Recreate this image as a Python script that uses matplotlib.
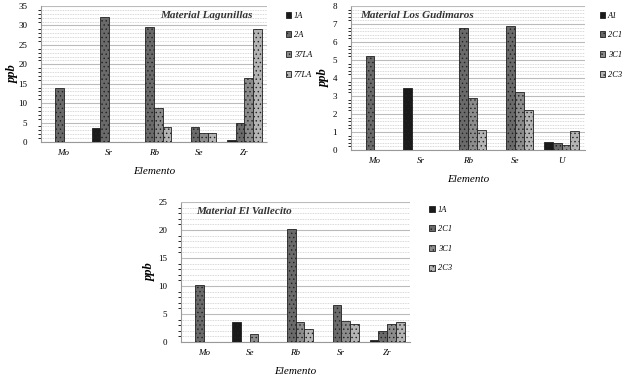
import matplotlib
matplotlib.use("Agg")
import matplotlib.pyplot as plt
from matplotlib.ticker import MultipleLocator
import numpy as np

plt.rcParams['font.family'] = ['Liberation Serif', 'DejaVu Serif']

# Chart 1: Material Lagunillas
cats1 = ["Mo", "Sr", "Rb", "Se", "Zr"]
leg1 = ["1A", "2A", "37LA", "77LA"]
vals1 = [
    [0.0, 3.5, 0.0, 0.0, 0.6],
    [14.0, 32.2, 29.7, 3.8, 4.8],
    [0.0, 0.0, 8.7, 2.3, 16.5],
    [0.0, 0.0, 3.8, 2.2, 29.1],
]

# Chart 2: Material Los Gudimaros
cats2 = ["Mo", "Sr", "Rb", "Se", "U"]
leg2 = ["A1", "2C1", "3C1", "2C3"]
vals2 = [
    [0.0, 3.45, 0.0, 0.0, 0.44],
    [5.25, 0.0, 6.8, 6.9, 0.41],
    [0.0, 0.0, 2.9, 3.2, 0.3],
    [0.0, 0.0, 1.1, 2.2, 1.05],
]

# Chart 3: Material El Vallecito
cats3 = ["Mo", "Se", "Rb", "Sr", "Zr"]
leg3 = ["1A", "2C1", "3C1", "2C3"]
vals3 = [
    [0.0, 3.5, 0.0, 0.0, 0.4],
    [10.2, 0.0, 20.1, 6.6, 1.9],
    [0.0, 1.4, 3.6, 3.8, 3.2],
    [0.0, 0.0, 2.3, 3.2, 3.5],
]

colors = ["#1a1a1a", "#6a6a6a", "#8c8c8c", "#b4b4b4"]
W, H = 630, 375
fig = plt.figure(figsize=(W / 100, H / 100), dpi=100)


def panel(rect, cats, vals, legs, title, ymax, ystep, tpos, lpos, ylab_x):
    l, t, r, b = rect
    ax = fig.add_axes([l / W, 1 - b / H, (r - l) / W, (b - t) / H])
    x = np.arange(len(cats))
    w = 0.19
    handles = []
    for i, v in enumerate(vals):
        bars = ax.bar(x + (i - 1.5) * w, v, w, color=colors[i],
                      edgecolor="#222222", linewidth=0.6, zorder=3,
                      hatch="....", label=legs[i])
        handles.append(bars)
    plt.rcParams['hatch.color'] = '#9a9a9a'
    ax.set_xlim(-0.5, len(cats) - 0.5)
    ax.set_ylim(0, ymax)
    ax.yaxis.set_major_locator(MultipleLocator(ystep))
    ax.yaxis.set_minor_locator(MultipleLocator(ystep / 5))
    ax.grid(axis="y", which="major", color="#bbbbbb", linewidth=0.8, linestyle="-", zorder=0)
    ax.grid(axis="y", which="minor", color="#cccccc", linewidth=0.6, linestyle=(0, (1, 1)), zorder=0)
    ax.set_xticks(x)
    ax.set_xticklabels(cats, fontsize=6.5, style="italic")
    ax.tick_params(axis="y", labelsize=6.5, length=0, pad=10)
    ax.tick_params(axis="x", length=0, pad=5)
    for s in ax.spines.values():
        s.set_visible(False)
    ax.spines["left"].set_visible(True)
    ax.spines["left"].set_linestyle((0, (1, 1)))
    ax.spines["left"].set_color("#999999")
    ax.spines["bottom"].set_visible(True)
    ax.spines["bottom"].set_linestyle((0, (1, 1)))
    ax.spines["bottom"].set_color("#999999")
    ax.set_xlabel("Elemento", fontsize=8, style="italic", labelpad=7)
    fig.text(ylab_x / W, 1 - ((t + b) / 2) / H, "ppb", rotation=90, fontsize=9,
             style="italic", fontweight="bold", ha="center", va="center")
    fig.text(tpos[0] / W, 1 - tpos[1] / H, title, fontsize=8, style="italic",
             fontweight="bold", ha="left", va="center", color="#333333")
    leg = fig.legend(handles=handles, loc="upper left",
                     bbox_to_anchor=(lpos[0] / W, 1 - lpos[1] / H),
                     frameon=False, fontsize=6, handlelength=0.7, handleheight=0.7,
                     handletextpad=0.3, labelspacing=1.4, prop={"style": "italic", "size": 6})
    return ax


plt.rcParams['hatch.color'] = '#9a9a9a'
plt.rcParams['hatch.linewidth'] = 0.5

panel((41, 6, 267, 142), cats1, vals1, leg1, "Material Lagunillas", 35, 5,
      (160, 15), (278, 4), 13)
panel((351, 6, 585, 150), cats2, vals2, leg2, "Material Los Gudimaros", 8, 1,
      (360, 15), (592, 4), 324)
panel((181, 202, 410, 342), cats3, vals3, leg3, "Material El Vallecito", 25, 5,
      (196, 211), (422, 198), 150)

fig.savefig("out.png", dpi=100, facecolor="white")
